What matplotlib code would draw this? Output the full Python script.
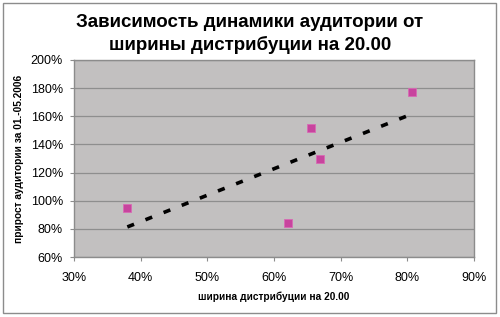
import matplotlib
matplotlib.use("Agg")
import matplotlib.pyplot as plt
import numpy as np
from matplotlib.ticker import FuncFormatter, MultipleLocator
from matplotlib.patches import Rectangle

plt.rcParams['font.family'] = ['Liberation Sans', 'DejaVu Sans']

title = "Зависимость динамики аудитории от\nширины дистрибуции на 20.00"
xlabel = "ширина дистрибуции на 20.00"
ylabel = "прирост аудитории за 01.-05.2006"

# distribution width (%) and audience growth (%)
width_pct = [38.0, 62.1, 65.5, 66.9, 80.7]
growth_pct = [95.0, 84.5, 151.5, 130.0, 177.4]

fig = plt.figure(figsize=(5.0, 3.17), dpi=100)
fig.patches.append(Rectangle((3/500, 4/317), 493/500, 310/317, transform=fig.transFigure,
                             fill=False, edgecolor='#8c8c8c', linewidth=1.0))
ax = fig.add_axes([74/500, 1 - 257/317, 400/500, 197/317])
ax.set_facecolor('#c2c0c0')

x = np.array(width_pct)
y = np.array(growth_pct)
k, b = np.polyfit(x, y, 1)
xt = np.array([x.min(), x.max()])
ax.plot(xt, k * xt + b, color='black', linewidth=2.6, dashes=(2.0, 3.4), zorder=3,
        solid_capstyle='butt', dash_capstyle='butt')
ax.plot(x, y, linestyle='none', marker='s', markersize=5.2, color='#c8449e',
        markeredgecolor='#d86ab4', markeredgewidth=0.6, zorder=4)

ax.set_xlim(30, 90)
ax.set_ylim(60, 200)
ax.xaxis.set_major_locator(MultipleLocator(10))
ax.yaxis.set_major_locator(MultipleLocator(20))
fmt = FuncFormatter(lambda v, p: f"{v:.0f}%")
ax.xaxis.set_major_formatter(fmt)
ax.yaxis.set_major_formatter(fmt)
ax.grid(axis='y', color='#8e8e8e', linewidth=0.9)
ax.set_axisbelow(True)
for s in ax.spines.values():
    s.set_color('#8c8c8c')
    s.set_linewidth(1.0)
ax.tick_params(axis='both', labelsize=9, color='#8c8c8c', length=3, direction='out',
               labelcolor='black')
ax.tick_params(axis='x', pad=8)
ax.tick_params(axis='y', pad=5)

ax.set_xlabel(xlabel, fontsize=7.3, fontweight='bold', labelpad=5)
ax.set_ylabel(ylabel, fontsize=7.3, fontweight='bold', labelpad=4.5)
fig.text(0.5, 1 - 34/317, title, ha='center', va='center', fontsize=13.5,
         fontweight='bold', linespacing=1.38)

fig.savefig("out.png", dpi=100)
